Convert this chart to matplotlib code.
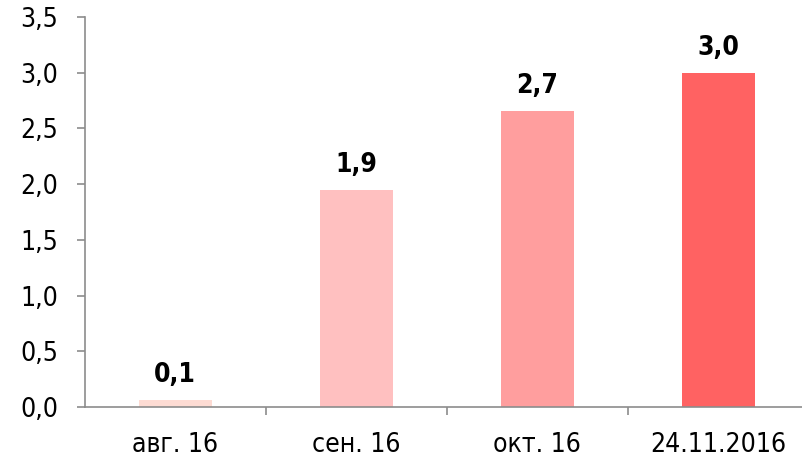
import matplotlib
matplotlib.use("Agg")
import matplotlib.pyplot as plt
from matplotlib.ticker import FuncFormatter, MultipleLocator

categories = ["авг. 16", "сен. 16", "окт. 16", "24.11.2016"]
values = [0.063, 1.95, 2.66, 3.0]
labels = ["0,1", "1,9", "2,7", "3,0"]
colors = ["#FDDBD3", "#FFC0C0", "#FF9E9E", "#FF6262"]

plt.rcParams['font.family'] = ['DejaVu Sans']
plt.rcParams['font.stretch'] = 'condensed'
FS = 19
fig = plt.figure(figsize=(8.02, 4.57), dpi=100)
ax = fig.add_axes([84.5/802, 1-407/457, (809-84.5)/802, (407-17)/457])

x = list(range(len(categories)))
ax.bar(x, values, width=0.403, color=colors)
for xi, v, lab in zip(x, values, labels):
    ax.annotate(lab, (xi, v), xytext=(0, 8.5), textcoords="offset points",
                ha="center", va="bottom", fontsize=FS, fontweight="bold")

ax.set_xlim(-0.5, 3.5)
ax.set_ylim(0, 3.5)
ax.yaxis.set_major_locator(MultipleLocator(0.5))
ax.yaxis.set_major_formatter(FuncFormatter(lambda v, p: f"{v:.1f}".replace(".", ",")))
ax.set_xticks(x)
ax.set_xticklabels(categories)
ax.set_xticks([0.5, 1.5, 2.5], minor=True)
ax.tick_params(axis="x", which="major", length=0, pad=18, labelsize=FS)
ax.tick_params(axis="x", which="minor", length=6, color="#8c8c8c", direction="out", width=1.2)
ax.tick_params(axis="y", length=6, color="#8c8c8c", labelsize=FS, pad=13, width=1.2)

for s in ["top", "right"]:
    ax.spines[s].set_visible(False)
for s in ["left", "bottom"]:
    ax.spines[s].set_color("#8c8c8c")
    ax.spines[s].set_linewidth(1.2)

fig.savefig("out.png", dpi=100)
